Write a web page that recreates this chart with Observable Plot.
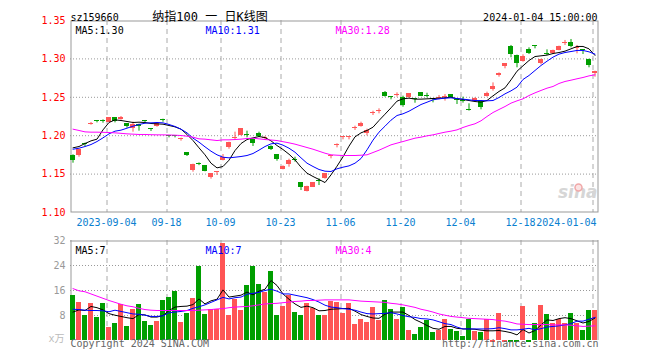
<!DOCTYPE html>
<html><head><meta charset="utf-8">
<script src="https://cdn.jsdelivr.net/npm/d3@7"></script>
<script src="https://cdn.jsdelivr.net/npm/@observablehq/plot@0.6"></script>
<style>
body{margin:0;background:#fff;}
#chart{position:relative;width:660px;height:360px;overflow:hidden;background:#fff;}
#chart svg{position:absolute;left:0;}
</style></head><body><div id="chart"></div>
<script>
// ---- data (88 trading days, 2023-08-25 .. 2024-01-04) ----
const open = [
1.1742,1.1742,1.1903,1.2148,1.2198,1.2192,1.2176,1.2232,1.2206,1.2154,
1.2089,1.2146,1.2198,1.2089,1.2124,1.2215,1.1998,1.2002,1.1955,1.1777,
1.1547,1.1633,1.1607,1.1451,1.1521,1.1677,1.1842,1.1968,1.2002,1.2013,
1.1955,1.2030,1.1966,1.1864,1.1751,1.1560,1.1620,1.1692,1.1386,1.1273,
1.1330,1.1415,1.1438,1.1729,1.1866,1.1976,1.1976,1.2092,1.2124,1.2033,
1.2287,1.2313,1.2562,1.2510,1.2526,1.2502,1.2493,1.2480,1.2558,1.2527,
1.2484,1.2487,1.2496,1.2532,1.2467,1.2464,1.2347,1.2450,1.2450,1.2515,
1.2597,1.2779,1.2905,1.3162,1.3044,1.2970,1.3122,1.3170,1.2936,1.3072,
1.3075,1.3110,1.3203,1.3209,1.3138,1.3122,1.2992,1.2805];
const high = [
1.1751,1.1820,1.1903,1.2172,1.2198,1.2206,1.2236,1.2236,1.2250,1.2158,
1.2176,1.2150,1.2198,1.2089,1.2158,1.2215,1.1998,1.2002,1.1968,1.1781,
1.1629,1.1646,1.1611,1.1507,1.1534,1.1755,1.1915,1.2046,1.2093,1.2059,
1.1959,1.2046,1.1989,1.1868,1.1755,1.1607,1.1694,1.1720,1.1390,1.1342,
1.1390,1.1438,1.1507,1.1742,1.1894,1.1989,1.1989,1.2124,1.2176,1.2085,
1.2319,1.2350,1.2575,1.2510,1.2558,1.2515,1.2549,1.2480,1.2562,1.2553,
1.2484,1.2523,1.2536,1.2536,1.2467,1.2502,1.2415,1.2493,1.2454,1.2567,
1.2688,1.2818,1.2940,1.3175,1.3049,1.3053,1.3144,1.3170,1.2996,1.3118,
1.3114,1.3166,1.3240,1.3253,1.3175,1.3122,1.2996,1.2840];
const low = [
1.1642,1.1720,1.1859,1.2137,1.2167,1.2163,1.2172,1.2167,1.2202,1.2098,
1.2046,1.2059,1.2154,1.2055,1.2111,1.2176,1.1972,1.1972,1.1929,1.1729,
1.1525,1.1610,1.1530,1.1434,1.1482,1.1672,1.1824,1.1937,1.1998,1.1972,
1.1859,1.1980,1.1937,1.1807,1.1668,1.1556,1.1590,1.1655,1.1286,1.1268,
1.1325,1.1351,1.1434,1.1699,1.1842,1.1946,1.1946,1.2068,1.2111,1.1998,
1.2263,1.2285,1.2502,1.2467,1.2502,1.2371,1.2489,1.2423,1.2510,1.2493,
1.2428,1.2467,1.2450,1.2489,1.2406,1.2424,1.2320,1.2445,1.2337,1.2502,
1.2580,1.2762,1.2871,1.3014,1.2884,1.2957,1.3057,1.3131,1.2923,1.3044,
1.3057,1.3105,1.3175,1.3144,1.3066,1.3057,1.2884,1.2762];
const close = [
1.1677,1.1816,1.1890,1.2161,1.2185,1.2179,1.2232,1.2185,1.2241,1.2124,
1.2146,1.2120,1.2185,1.2076,1.2154,1.2202,1.1985,1.1989,1.1968,1.1742,
1.1625,1.1620,1.1538,1.1503,1.1534,1.1720,1.1911,1.1981,1.2089,1.2000,
1.1903,1.1995,1.1979,1.1824,1.1686,1.1603,1.1677,1.1679,1.1321,1.1338,
1.1386,1.1402,1.1503,1.1742,1.1879,1.1989,1.1989,1.2105,1.2163,1.2063,
1.2300,1.2326,1.2515,1.2497,1.2539,1.2393,1.2545,1.2467,1.2515,1.2514,
1.2471,1.2500,1.2509,1.2493,1.2454,1.2451,1.2334,1.2489,1.2363,1.2554,
1.2641,1.2814,1.2936,1.3053,1.2936,1.3031,1.3075,1.3157,1.2992,1.3059,
1.3110,1.3162,1.3216,1.3162,1.3151,1.3109,1.2914,1.2836];
const volume = [
14.4,12.2,8.0,11.7,7.4,11.8,4.2,5.4,11.6,4.5,
9.9,11.4,6.1,4.8,6.1,12.8,13.8,15.8,5.8,8.6,
13.4,23.7,8.3,9.9,9.9,30.9,8.0,13.1,9.7,17.6,
23.7,17.9,15.5,22.1,8.0,10.9,14.4,9.0,8.0,12.0,
10.2,8.0,8.0,12.5,12.2,8.6,11.8,5.1,6.7,5.8,
10.6,6.4,12.8,9.9,6.7,10.6,3.2,1.9,4.2,6.4,
2.6,3.2,6.7,3.5,2.9,1.3,6.7,2.9,2.7,6.7,
0,8.6,0,0,0,10.9,0,5.4,11.2,8.3,
5.3,6.6,5.3,8.6,5.3,3.2,9.6,9.6];
const ma5 = [
1.1842,1.1859,1.1898,1.1933,1.1955,1.2076,1.2172,1.2206,1.2198,1.2185,
1.2172,1.2176,1.2172,1.2159,1.2154,1.2150,1.2133,1.2115,1.2085,1.2016,
1.1937,1.1842,1.1751,1.1642,1.1581,1.1599,1.1681,1.1807,1.1898,1.1950,
1.1972,1.1989,1.1976,1.1933,1.1872,1.1820,1.1759,1.1686,1.1590,1.1512,
1.1469,1.1430,1.1390,1.1490,1.1603,1.1725,1.1864,1.1985,1.2037,1.2068,
1.2111,1.2198,1.2280,1.2363,1.2450,1.2480,1.2489,1.2476,1.2476,1.2480,
1.2484,1.2489,1.2493,1.2502,1.2480,1.2471,1.2458,1.2445,1.2437,1.2458,
1.2519,1.2576,1.2623,1.2727,1.2840,1.2910,1.2979,1.3031,1.3040,1.3049,
1.3070,1.3083,1.3101,1.3131,1.3162,1.3162,1.3131,1.3045];
const ma10 = [
1.1824,1.1837,1.1859,1.1885,1.1924,1.1972,1.2024,1.2059,1.2072,1.2098,
1.2124,1.2146,1.2163,1.2167,1.2172,1.2167,1.2146,1.2120,1.2085,1.2037,
1.1968,1.1916,1.1855,1.1798,1.1751,1.1720,1.1712,1.1720,1.1729,1.1742,
1.1768,1.1812,1.1859,1.1894,1.1903,1.1877,1.1837,1.1785,1.1712,1.1642,
1.1599,1.1560,1.1538,1.1534,1.1569,1.1590,1.1607,1.1642,1.1703,1.1816,
1.1942,1.2046,1.2124,1.2202,1.2263,1.2285,1.2319,1.2363,1.2406,1.2436,
1.2467,1.2480,1.2489,1.2493,1.2484,1.2476,1.2467,1.2458,1.2458,1.2454,
1.2458,1.2497,1.2545,1.2584,1.2632,1.2732,1.2784,1.2849,1.2914,1.2970,
1.3023,1.3062,1.3083,1.3096,1.3110,1.3110,1.3092,1.3062];
const ma30 = [
1.2085,1.2068,1.2050,1.2046,1.2046,1.2044,1.2041,1.2037,1.2031,1.2024,
1.2020,1.2016,1.2016,1.2013,1.2011,1.2011,1.2009,1.2007,1.2002,1.1994,
1.1981,1.1959,1.1955,1.1946,1.1937,1.1946,1.1946,1.1950,1.1955,1.1963,
1.1968,1.1959,1.1950,1.1944,1.1937,1.1922,1.1907,1.1890,1.1868,1.1846,
1.1824,1.1798,1.1772,1.1751,1.1746,1.1742,1.1742,1.1742,1.1746,1.1751,
1.1781,1.1811,1.1846,1.1881,1.1903,1.1924,1.1946,1.1968,1.1981,1.1998,
1.2011,1.2029,1.2046,1.2059,1.2076,1.2107,1.2133,1.2155,1.2194,1.2250,
1.2302,1.2341,1.2380,1.2424,1.2454,1.2480,1.2523,1.2558,1.2589,1.2619,
1.2641,1.2680,1.2706,1.2723,1.2741,1.2758,1.2779,1.2793];
const volMa5 = [
9.1,9.8,9.6,10.9,10.5,9.8,8.6,8.1,7.7,7.3,
7.0,8.3,8.2,7.5,7.5,8.0,9.6,10.7,10.9,11.0,
11.5,13.3,11.7,12.7,13.2,16.2,13.9,14.2,14.5,15.5,
14.6,15.8,16.4,19.2,17.6,14.9,13.2,11.7,10.6,11.0,
10.5,9.5,9.6,10.0,10.1,10.2,10.3,9.4,8.3,7.7,
7.2,7.1,8.4,9.1,9.1,9.1,8.0,6.7,5.8,4.8,
3.9,3.6,4.5,4.5,3.9,3.7,3.7,3.6,3.3,3.1,
3.1,3.2,2.9,2.5,1.8,3.5,2.4,3.2,5.0,6.6,
6.4,7.0,7.3,7.0,6.3,5.6,6.1,7.2];
const volMa10 = [
10.0,9.9,9.7,9.6,9.6,9.5,9.2,9.7,9.3,8.9,
8.5,8.4,8.1,7.7,7.7,7.9,8.9,9.1,9.3,9.6,
10.3,10.8,11.4,12.2,13.0,13.8,13.3,13.7,13.9,14.8,
15.1,15.4,16.0,16.4,15.8,14.9,14.9,14.5,14.1,13.7,
13.1,12.3,11.3,10.7,10.5,10.2,10.0,9.7,9.1,8.6,
8.5,8.6,8.7,8.9,8.5,8.0,7.6,7.4,7.0,6.9,
6.6,6.0,5.4,5.1,4.3,3.7,3.7,3.7,3.7,3.7,
3.8,4.1,3.8,3.4,3.4,3.6,3.9,3.4,3.8,4.3,
4.5,4.7,5.0,5.4,6.2,6.2,6.8,7.4];
const volMa30 = [
16.6,15.9,15.6,14.9,14.2,13.5,12.8,12.2,11.6,11.1,
10.8,10.3,9.9,9.7,9.6,9.6,9.6,9.6,9.6,9.6,
9.6,9.7,9.8,9.9,10.1,10.2,10.5,10.7,10.8,10.9,
11.1,11.4,11.7,11.8,11.9,12.1,12.3,12.5,12.6,12.8,
12.8,12.9,13.0,13.0,13.0,13.0,13.0,12.8,12.6,12.5,
12.4,12.3,12.2,11.9,11.7,11.4,11.0,10.6,10.0,9.6,
9.1,8.5,8.1,7.7,7.5,7.3,7.1,7.0,6.9,6.8,
6.7,6.4,6.2,5.8,5.3,5.2,5.1,5.1,5.1,5.1,
5.0,5.0,5.0,4.9,4.7,4.5,4.6,4.7];
const tickIndex = [6,16,25,35,45,55,65,75,87];
const tickLabels = ["2023-09-04","09-18","10-09","10-23","11-06","11-20","12-04","12-18","2024-01-04"];
const priceTicks = [1.10,1.15,1.20,1.25,1.30,1.35];
const volTicks = [8,16,24,32];
const maLabels = ["MA5:1.30","MA10:1.31","MA30:1.28"];
const volMaLabels = ["MA5:7","MA10:7","MA30:4"];
const headerLabels = ["sz159660","纳指100 一 日K线图","2024-01-04 15:00:00"];
const footerLabels = ["Copyright 2024 SINA.COM","http://finance.sina.com.cn","x万"];

// ---- drawing ----
const F = '"DejaVu Sans Mono","Noto Sans CJK SC",monospace';
const RED = "#ff5555", GREEN = "#009e00";
const MA_COLORS = ["#000000","#0000ff","#ff00ff"];
const candles = open.map((o,i)=>({i, o, h:high[i], l:low[i], c:close[i], v:volume[i]}));
const col = d => d.c >= d.o ? RED : GREEN;
const N = open.length;
const cx = i => i + 5/12;
const xScale = {type:"linear", domain:[0, N], axis:null};
const style = {fontFamily:F, fontSize:"10px", background:"transparent", overflow:"visible"};
const gridDash = {stroke:"#aaa", strokeOpacity:1, strokeDasharray:"5,4"};
const gridDot = {stroke:"#999", strokeOpacity:1, strokeDasharray:"1,2"};
const maMarks = (arrs) => arrs.map((a,k)=>Plot.line(a, {x:(d,i)=>cx(i), y:d=>d, stroke:MA_COLORS[k], strokeWidth:1}));
const maTexts = (labels, dy) => labels.map((t,k)=>Plot.text([t], {text:d=>d, frameAnchor:"top-left", dx:5+130*k, dy, textAnchor:"start", fill:MA_COLORS[k]}));

const main = Plot.plot({
  width:660, height:230, marginTop:20, marginBottom:18, marginLeft:70, marginRight:62,
  x:xScale, y:{domain:[1.10,1.35], axis:null}, color:{type:"identity"}, style,
  marks:[
    Plot.gridY(priceTicks.slice(1,-1), gridDot),
    Plot.gridX(tickIndex.map(i=>i+1/12), gridDash),
    Plot.frame({stroke:"#999", inset:0.5}),
    Plot.axisY(priceTicks, {tickSize:0, tickPadding:5, tickFormat:d=>d.toFixed(2), color:"#ff0000", label:null}),
    Plot.text(tickIndex.slice(0,-1), {x:d=>d, text:(d,k)=>tickLabels[k], frameAnchor:"bottom", lineAnchor:"top", dy:6, fill:"#0a80d0"}),
    Plot.text(tickIndex.slice(-1), {x:d=>d, text:()=>tickLabels[tickLabels.length-1], frameAnchor:"bottom", lineAnchor:"top", dx:4, dy:6, textAnchor:"end", fill:"#0a80d0"}),
    Plot.text(["sina"], {text:d=>d, frameAnchor:"bottom-right", dx:-1, dy:-15, textAnchor:"end", fontSize:17, fontStyle:"italic", fontWeight:"bold", fontFamily:"DejaVu Sans", fill:"#d6d6d6"}),
    Plot.dot([0], {frameAnchor:"bottom-right", dx:-20, dy:-25, r:3.5, fill:"#fbe3e3", stroke:"#f0a8a8", strokeWidth:1.5}),
    Plot.ruleX(candles, {x:d=>cx(d.i), y1:"l", y2:"h", stroke:col, strokeWidth:1}),
    Plot.rect(candles, {x1:"i", x2:d=>d.i+5/6, y1:"o", y2:"c", fill:col, shapeRendering:"crispEdges"}),
    ...maMarks([ma5, ma10, ma30]),
    ...maTexts(maLabels, 6),
    Plot.text([headerLabels[0]], {text:d=>d, frameAnchor:"top-left", dy:-7, textAnchor:"start", fill:"#000"}),
    Plot.text([headerLabels[1]], {text:d=>d, frameAnchor:"top-left", dx:139.5, dy:-8, textAnchor:"middle", fontSize:12, fill:"#000"}),
    Plot.text([headerLabels[2]], {text:d=>d, frameAnchor:"top-right", dx:-1, dy:-7, textAnchor:"end", fill:"#000"})
  ]
});

const vol = Plot.plot({
  width:660, height:130, marginTop:10, marginBottom:20, marginLeft:70, marginRight:62,
  x:xScale, y:{domain:[0,32], axis:null}, color:{type:"identity"}, style,
  marks:[
    Plot.gridY(volTicks.slice(0,-1), gridDot),
    Plot.gridX(tickIndex.map(i=>i+1/12), gridDash),
    Plot.ruleY([32], {stroke:"#999", dy:0.5}),
    Plot.ruleX([0], {stroke:"#999", dx:0.5}),
    Plot.ruleX([N], {stroke:"#999", dx:-0.5}),
    Plot.axisY(volTicks, {tickSize:0, tickPadding:5, color:"#999", label:null}),
    Plot.rect(candles, {x1:"i", x2:d=>d.i+5/6, y1:0, y2:"v", fill:col, shapeRendering:"crispEdges"}),
    Plot.rect(candles.filter(d=>d.v===0), {x1:"i", x2:d=>d.i+5/6, y1:0, y2:0, insetBottom:-2, fill:col, shapeRendering:"crispEdges"}),
    ...maMarks([volMa5, volMa10, volMa30]),
    ...maTexts(volMaLabels, 6.5),
    Plot.text([footerLabels[0]], {text:d=>d, frameAnchor:"bottom-left", dy:6, textAnchor:"start", fill:"#666"}),
    Plot.text([footerLabels[1]], {text:d=>d, frameAnchor:"bottom-right", dy:6, textAnchor:"end", fill:"#666"}),
    Plot.text([footerLabels[2]], {text:d=>d, frameAnchor:"bottom-left", dx:-6, dy:1, textAnchor:"end", fill:"#bbb"})
  ]
});

const box = document.getElementById("chart");
main.style.top = "0px";
vol.style.top = "230px";
box.appendChild(main);
box.appendChild(vol);
</script>
</body></html>
